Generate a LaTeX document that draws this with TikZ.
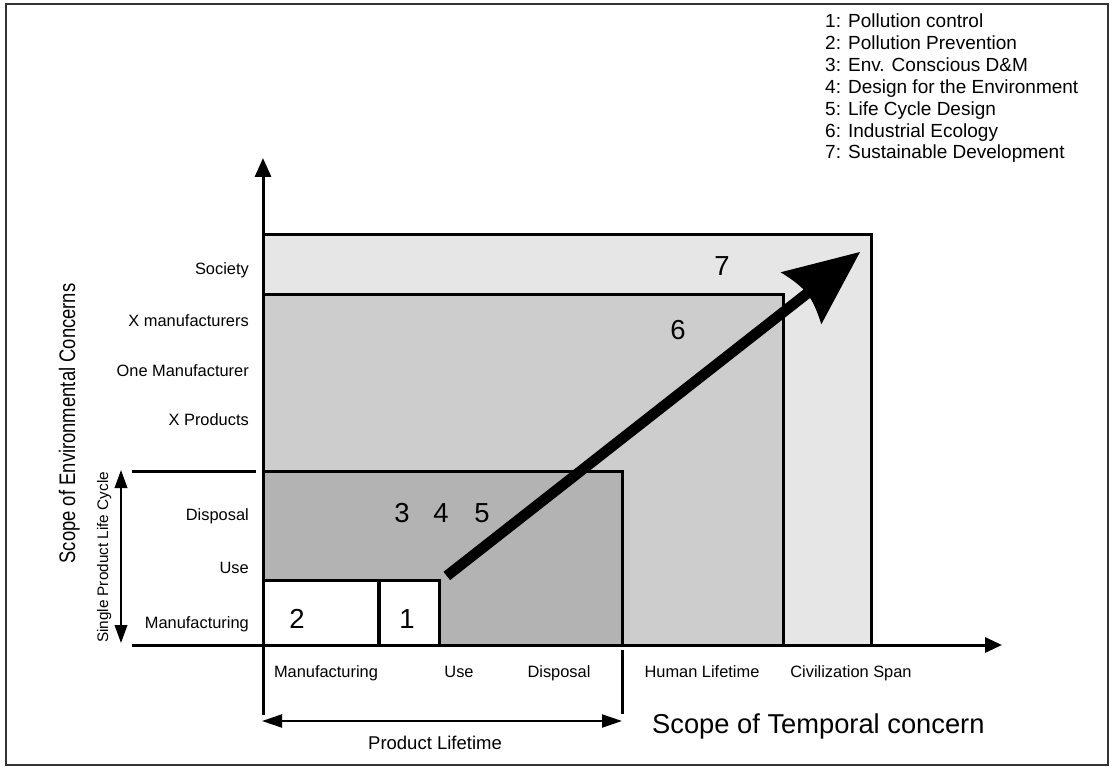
\documentclass[tikz,border=0pt]{standalone}
\usepackage{fontspec}
\setmainfont{Liberation Sans}
\usetikzlibrary{arrows.meta}
\definecolor{zoneseven}{HTML}{E6E6E6}
\definecolor{zonesix}{HTML}{CDCDCD}
\definecolor{zonefive}{HTML}{B3B3B3}
\definecolor{framegray}{HTML}{333333}
\begin{document}
\begin{tikzpicture}[x=1pt,y=-1pt,
  lab/.style={font=\fontsize{16.4}{18}\selectfont, inner sep=0pt},
  num/.style={font=\fontsize{27.5}{30}\selectfont, inner sep=0pt, anchor=base},
  leg/.style={font=\fontsize{19}{22}\selectfont, inner sep=0pt, anchor=base west},
  zone/.style={draw=black, line width=3pt},
  axisline/.style={line width=3pt, line cap=butt},
  thinarrow/.style={line width=2pt},
  bigtip/.style={-{Triangle[length=19pt,width=16pt]}},
  smalltips/.style={{Triangle[length=18pt,width=12.5pt]}-{Triangle[length=18pt,width=12.5pt]}}
]
\useasboundingbox (0,0) rectangle (1112,767);
\draw[line width=2pt, draw=framegray] (6,4) rectangle (1108,765);

% nested zones
\path[zone, fill=zoneseven] (263,235) rectangle (871,645);
\path[zone, fill=zonesix] (263,295) rectangle (783,645);
\path[zone, fill=zonefive] (263,471) rectangle (622,645);
\path[zone, fill=white] (263,580) rectangle (378,645);
\path[zone, fill=white] (379,580) rectangle (439,645);

% axes
\coordinate (ybot) at (263,715);
\coordinate (ytop) at (263,158);
\coordinate (xleft) at (132,645);
\coordinate (xright) at (1002,645);
\draw[axisline, bigtip] (ybot) -- (ytop);
\draw[axisline, -{Triangle[length=17pt,width=15pt]}] (xleft) -- (xright);
\coordinate (lcl) at (132,471);
\coordinate (lcr) at (256,471);
\draw[axisline] (lcl) -- (lcr);

% single product life cycle arrow
\coordinate (spa) at (121,470);
\coordinate (spb) at (121,643);
\draw[thinarrow, smalltips] (spa) -- (spb);

% product lifetime
\coordinate (plt) at (622,650);
\coordinate (plb) at (622,714);
\draw[axisline] (plt) -- (plb);
\coordinate (pla) at (262,721);
\coordinate (plz) at (622,721);
\draw[thinarrow, {Triangle[length=20pt,width=13pt]}-{Triangle[length=20pt,width=13pt]}] (pla) -- (plz);

% big arrow
\fill[black] (860,252) -- (780.6,272.3)
  .. controls (792.6,279.5) and (800.3,286.1) .. (803.5,289.5)
  -- (443.5,571.8) -- (450.1,580.1) -- (810.1,297.9)
  .. controls (812.7,301.8) and (817.3,310.9) .. (821.3,324.3) -- cycle;

% legend
\node[leg] (l1) at (825,28) {1: Pollution control};
\node[leg] (l2) at (825,50) {2: Pollution Prevention};
\node[leg] (l3) at (825,72) {3: Env. Conscious D\&M};
\node[leg] (l4) at (825,94) {4: Design for the Environment};
\node[leg] (l5) at (825,116) {5: Life Cycle Design};
\node[leg] (l6) at (825,138) {6: Industrial Ecology};
\node[leg] (l7) at (825,159) {7: Sustainable Development};

% zone numbers
\node[num] (n7) at (722,276) {7};
\node[num] (n6) at (678,340) {6};
\node[num] (n3) at (402,522) {3};
\node[num] (n4) at (441,522) {4};
\node[num] (n5) at (482,522) {5};
\node[num] (n2) at (297,628) {2};
\node[num] (n1) at (407,628) {1};

% left labels
\node[lab, anchor=base east] (ysoc) at (249,275) {Society};
\node[lab, anchor=base east] (yxm) at (249,327) {X manufacturers};
\node[lab, anchor=base east] (yom) at (249,377) {One Manufacturer};
\node[lab, anchor=base east] (yxp) at (249,426) {X Products};
\node[lab, anchor=base east] (ydis) at (249,520) {Disposal};
\node[lab, anchor=base east] (yuse) at (249,573) {Use};
\node[lab, anchor=base east] (yman) at (249,628) {Manufacturing};

% bottom labels
\node[lab, anchor=base] (xman) at (326,677) {Manufacturing};
\node[lab, anchor=base] (xuse) at (459,677) {Use};
\node[lab, anchor=base] (xdis) at (559,677) {Disposal};
\node[lab, anchor=base] (xhum) at (702,677) {Human Lifetime};
\node[lab, anchor=base] (xciv) at (851,677) {Civilization Span};
\node[inner sep=0pt, anchor=base, font=\fontsize{18.5}{20}\selectfont] (plife) at (435,749) {Product Lifetime};

% axis titles
\node[inner sep=0pt, anchor=base west, font=\fontsize{27.3}{30}\selectfont] (xtitle) at (652,733) {Scope of Temporal concern};
\node[inner sep=0pt, anchor=base, rotate=90, font=\fontsize{22.5}{25}\selectfont] (ytitle) at (75,423.5) {\scalebox{0.82}[1]{Scope of Environmental Concerns}};
\node[inner sep=0pt, anchor=base, rotate=90, font=\fontsize{15.3}{17}\selectfont] (sptitle) at (108,557.5) {Single Product Life Cycle};
\end{tikzpicture}
\end{document}
